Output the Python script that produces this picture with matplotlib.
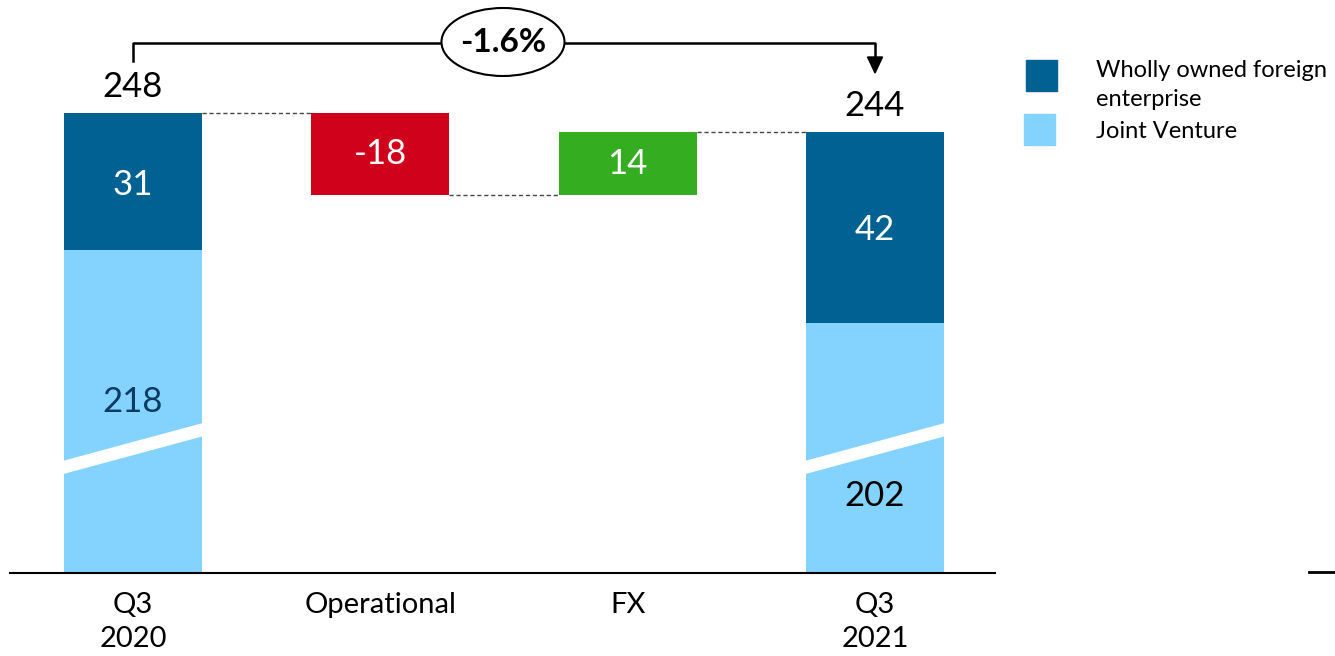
"""
Waterfall Q3 2020 -> Q3 2021 (axe cassé) avec légende WOFE / JV
"""

import matplotlib.pyplot as plt
from matplotlib.patches import Ellipse, Polygon, Rectangle
import numpy as np

plt.rcParams['font.family'] = ['Lato', 'DejaVu Sans']

# données
categories = ['Q3\n2020', 'Operational', 'FX', 'Q3\n2021']
totals = [248, 244]          # Q3 2020, Q3 2021
wofe = [31, 42]              # Wholly owned foreign enterprise
jv = [218, 202]              # Joint Venture
bridge = [-18, 14]           # Operational, FX
change_label = '-1.6%'
legend_labels = ['Wholly owned foreign\nenterprise', 'Joint Venture']

DARK = '#006192'
LIGHT = '#84D3FF'
RED = '#D0021B'
GREEN = '#35AD21'

W, H = 1335, 656
BREAK = 147       # décalage de l'axe cassé
PX = 4.55         # pixels par unité

fig = plt.figure(figsize=(W / 100, H / 100), dpi=100)
ax = fig.add_axes([10 / W, 83 / H, 985 / W, 573 / H])
ax.set_xlim(-0.497, 3.485)
ax.set_ylim(0, 573 / PX)
ax.axis('off')

x = np.arange(len(categories))
bw = 0.558

# barres de début / fin
for i, xi in zip([0, 1], [x[0], x[3]]):
    ax.bar(xi, jv[i] - BREAK, bw, color=LIGHT, zorder=2)
    ax.bar(xi, totals[i] - jv[i], bw, bottom=jv[i] - BREAK, color=DARK, zorder=2)

# ponts
level = totals[0]
colors = [RED, GREEN]
levels = [level]
for k, d in enumerate(bridge):
    ax.bar(x[k + 1], d, bw, bottom=level - BREAK, color=colors[k], zorder=2)
    level += d
    levels.append(level)

# lignes pointillées de liaison
for k in range(3):
    ax.plot([x[k] + bw / 2, x[k + 1] - bw / 2], [levels[k] - BREAK] * 2,
            ls=(0, (3, 2)), color='#444444', lw=1, zorder=1)

# marque de rupture d'axe
for xi in [x[0], x[3]]:
    xl, xr = xi - bw / 2 - 0.01, xi + bw / 2 + 0.01
    ax.add_patch(Polygon([(xl, 21.8), (xr, 30.3), (xr, 32.9), (xl, 24.4)],
                         closed=True, color='white', zorder=3))

# axe
ax.axhline(0, color='black', lw=1.5, clip_on=False, zorder=4)

# étiquettes de valeurs
fs = 25
for i, xi in zip([0, 1], [x[0], x[3]]):
    ax.text(xi, totals[i] - BREAK + 26 / PX, str(totals[i]), ha='center', va='center',
            fontsize=fs, color='black')
    ax.text(xi, (jv[i] + totals[i]) / 2 - BREAK - 3 / PX, str(wofe[i]), ha='center',
            va='center', fontsize=fs, color='white', zorder=5)
ax.text(x[0], 171 / PX, str(jv[0]), ha='center', va='center', fontsize=fs,
        color='#0B3A63', zorder=5)
ax.text(x[3], 77 / PX, str(jv[1]), ha='center', va='center', fontsize=fs,
        color='black', zorder=5)
for k, d in enumerate(bridge):
    ax.text(x[k + 1], levels[k] + d / 2 - BREAK, str(d), ha='center', va='center',
            fontsize=fs, color='white', zorder=5)

# catégories
for xi, lab in zip(x, categories):
    ax.text(xi, -19 / PX, lab, ha='center', va='top', fontsize=21,
            linespacing=1.4, clip_on=False)

# accolade + variation
ytop = (573 - 43) / PX
ax.plot([x[0], x[0], x[3], x[3]], [(573 - 61) / PX, ytop, ytop, (573 - 60) / PX],
        color='black', lw=1.8, clip_on=False, zorder=4)
ax.add_patch(Polygon([(x[3] - 7.5 / 247, (573 - 57) / PX),
                      (x[3] + 7.5 / 247, (573 - 57) / PX),
                      (x[3], (573 - 73) / PX)],
                     closed=True, color='black', clip_on=False, zorder=4))
ax.add_patch(Ellipse((1.496, (573 - 42) / PX), 123 / 247.3, 68 / PX,
                     facecolor='white', edgecolor='black', lw=1.5,
                     clip_on=False, zorder=5))
ax.text(1.496, (573 - 42) / PX, change_label, ha='center', va='center',
        fontsize=24, fontweight='bold', zorder=6)

# légende (coordonnées pixels)
oax = fig.add_axes([0, 0, 1, 1])
oax.set_xlim(0, W)
oax.set_ylim(H, 0)
oax.axis('off')
oax.patch.set_alpha(0)
oax.add_patch(Rectangle((1026, 60), 31, 31, color=DARK))
oax.add_patch(Rectangle((1024, 114), 31, 31, color=LIGHT))
oax.text(1096, 85, legend_labels[0], ha='left', va='center', fontsize=17,
         linespacing=1.45)
oax.text(1096, 131, legend_labels[1], ha='left', va='center', fontsize=17)
oax.plot([1309, 1335], [572, 572], color='black', lw=2)

plt.savefig('out.png', dpi=100)
